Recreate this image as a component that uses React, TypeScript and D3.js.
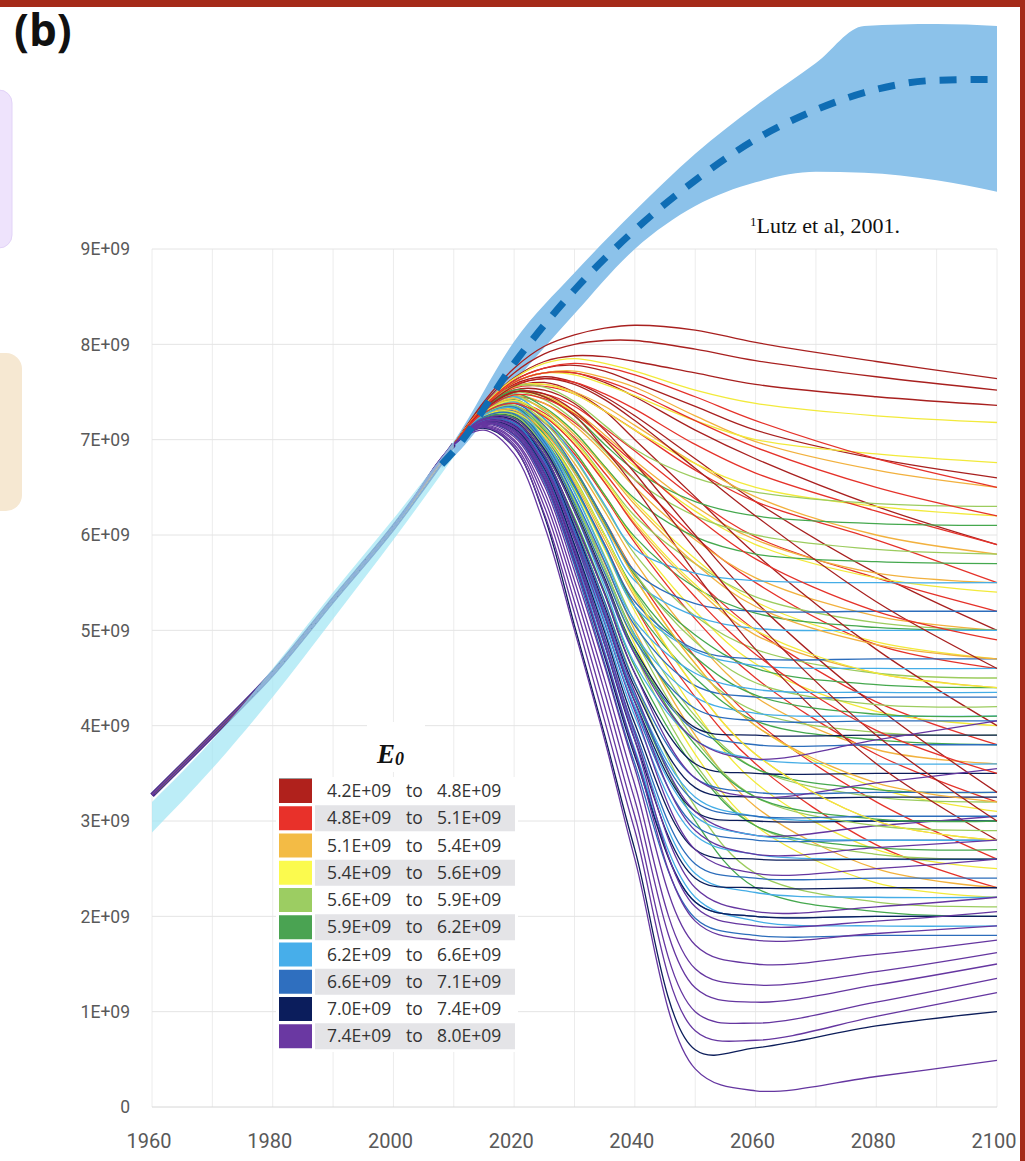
import React, { useEffect, useRef } from "react";
import * as d3 from "d3";

const W = 1025;
const H = 1161;

// shared history of all model runs (billions)
const histYears = [1960, 1970, 1980, 1990, 2000, 2010];
const modelHistory = [3.27, 3.9, 4.55, 5.32, 6.08, 6.95];
const observedUpper = [3.2, 3.85, 4.6, 5.4, 6.17, 6.98];
const observedLower = [2.88, 3.55, 4.3, 5.12, 5.95, 6.82];

// model runs after 2010, one array per E0 class
const runYears = [2015, 2020, 2025, 2030, 2035, 2040, 2050, 2060, 2080, 2100];

const darkRedRuns = [
  [7.40, 7.75, 7.98, 8.10, 8.17, 8.20, 8.15, 8.02, 7.82, 7.64],
  [7.38, 7.70, 7.90, 8.00, 8.04, 8.04, 7.95, 7.83, 7.66, 7.52],
  [7.36, 7.65, 7.82, 7.88, 7.87, 7.82, 7.70, 7.58, 7.45, 7.36],
  [7.36, 7.62, 7.75, 7.78, 7.72, 7.60, 7.35, 7.10, 6.80, 6.60],
  [7.35, 7.60, 7.70, 7.70, 7.60, 7.45, 7.10, 6.80, 6.30, 5.90],
  [7.34, 7.58, 7.66, 7.60, 7.45, 7.25, 6.80, 6.35, 5.60, 5.00],
  [7.33, 7.55, 7.60, 7.50, 7.30, 7.00, 6.40, 5.80, 4.80, 4.00],
  [7.32, 7.52, 7.52, 7.38, 7.10, 6.75, 6.00, 5.30, 4.20, 3.30],
  [7.30, 7.50, 7.45, 7.25, 6.90, 6.50, 5.60, 4.80, 3.60, 2.80],
  [7.33, 7.56, 7.64, 7.58, 7.42, 7.20, 6.70, 6.20, 5.30, 4.60],
  [7.31, 7.50, 7.48, 7.30, 7.00, 6.65, 5.85, 5.10, 3.90, 3.00],
];

const redRuns = [
  [7.24, 7.25, 6.98, 6.50, 5.90, 5.25, 4.30, 3.60, 2.75, 2.30],
  [7.26, 7.30, 7.08, 6.68, 6.15, 5.60, 4.72, 4.05, 3.20, 2.60],
  [7.27, 7.35, 7.18, 6.85, 6.40, 5.92, 5.12, 4.50, 3.70, 3.20],
  [7.29, 7.40, 7.28, 7.02, 6.65, 6.25, 5.55, 5.00, 4.25, 3.80],
  [7.30, 7.45, 7.38, 7.18, 6.90, 6.58, 5.98, 5.50, 4.85, 4.60],
  [7.31, 7.50, 7.48, 7.35, 7.12, 6.88, 6.38, 5.98, 5.55, 5.20],
  [7.32, 7.54, 7.56, 7.48, 7.30, 7.10, 6.68, 6.35, 5.95, 5.50],
  [7.33, 7.57, 7.64, 7.60, 7.48, 7.32, 6.95, 6.65, 6.25, 5.90],
  [7.34, 7.60, 7.70, 7.70, 7.62, 7.50, 7.20, 6.92, 6.50, 6.20],
  [7.35, 7.62, 7.75, 7.80, 7.76, 7.68, 7.45, 7.20, 6.80, 6.50],
  [7.28, 7.38, 7.24, 6.95, 6.55, 6.10, 5.35, 4.75, 3.95, 3.50],
  [7.30, 7.47, 7.43, 7.27, 7.02, 6.75, 6.20, 5.75, 5.20, 4.90],
];

const orangeRuns = [
  [7.23, 7.22, 6.90, 6.35, 5.70, 5.00, 3.90, 3.15, 2.50, 2.30],
  [7.25, 7.28, 7.02, 6.55, 5.95, 5.35, 4.40, 3.70, 3.00, 2.80],
  [7.27, 7.34, 7.14, 6.75, 6.25, 5.72, 4.90, 4.30, 3.75, 3.60],
  [7.29, 7.40, 7.25, 6.95, 6.55, 6.12, 5.45, 4.95, 4.55, 4.40],
  [7.31, 7.46, 7.38, 7.15, 6.85, 6.50, 5.95, 5.55, 5.15, 5.00],
  [7.32, 7.50, 7.46, 7.30, 7.05, 6.78, 6.30, 5.95, 5.60, 5.50],
  [7.33, 7.55, 7.58, 7.50, 7.35, 7.15, 6.75, 6.40, 6.00, 5.80],
  [7.34, 7.60, 7.70, 7.72, 7.65, 7.55, 7.25, 6.98, 6.68, 6.50],
  [7.30, 7.43, 7.32, 7.05, 6.70, 6.32, 5.70, 5.25, 4.85, 4.70],
  [7.26, 7.31, 7.08, 6.65, 6.10, 5.55, 4.65, 4.00, 3.40, 3.20],
];

const yellowRuns = [
  [7.22, 7.20, 6.88, 6.30, 5.60, 4.85, 3.70, 2.95, 2.35, 2.20],
  [7.24, 7.26, 6.98, 6.48, 5.85, 5.20, 4.15, 3.40, 2.70, 2.50],
  [7.26, 7.32, 7.10, 6.68, 6.12, 5.55, 4.65, 4.00, 3.35, 3.10],
  [7.28, 7.38, 7.20, 6.88, 6.42, 5.95, 5.20, 4.65, 4.15, 4.00],
  [7.30, 7.44, 7.32, 7.08, 6.72, 6.35, 5.75, 5.30, 4.88, 4.70],
  [7.32, 7.50, 7.45, 7.28, 7.00, 6.72, 6.25, 5.90, 5.55, 5.40],
  [7.34, 7.56, 7.58, 7.48, 7.30, 7.10, 6.75, 6.50, 6.30, 6.20],
  [7.35, 7.60, 7.70, 7.68, 7.58, 7.46, 7.20, 7.00, 6.85, 6.76],
  [7.36, 7.64, 7.80, 7.85, 7.80, 7.72, 7.52, 7.38, 7.25, 7.18],
  [7.29, 7.41, 7.26, 6.98, 6.58, 6.15, 5.48, 5.00, 4.55, 4.40],
  [7.25, 7.29, 7.04, 6.58, 6.00, 5.38, 4.40, 3.70, 3.00, 2.80],
];

const lightGreenRuns = [
  [7.21, 7.18, 6.80, 6.12, 5.30, 4.45, 3.15, 2.45, 2.15, 2.10],
  [7.23, 7.23, 6.88, 6.28, 5.52, 4.75, 3.60, 2.95, 2.65, 2.60],
  [7.25, 7.28, 6.98, 6.45, 5.78, 5.08, 4.10, 3.55, 3.25, 3.20],
  [7.26, 7.33, 7.06, 6.60, 6.00, 5.40, 4.60, 4.15, 3.93, 3.90],
  [7.28, 7.40, 7.18, 6.80, 6.30, 5.80, 5.15, 4.80, 4.55, 4.50],
  [7.30, 7.46, 7.30, 7.00, 6.60, 6.20, 5.70, 5.35, 5.08, 5.00],
  [7.32, 7.50, 7.42, 7.20, 6.88, 6.58, 6.20, 6.00, 5.85, 5.80],
  [7.34, 7.56, 7.55, 7.40, 7.15, 6.90, 6.60, 6.45, 6.33, 6.30],
  [7.27, 7.36, 7.12, 6.70, 6.15, 5.60, 4.88, 4.45, 4.22, 4.20],
  [7.24, 7.25, 6.93, 6.36, 5.65, 4.92, 3.85, 3.25, 2.95, 2.90],
];

const greenRuns = [
  [7.20, 7.14, 6.72, 6.00, 5.15, 4.30, 3.00, 2.30, 2.05, 2.00],
  [7.22, 7.20, 6.82, 6.18, 5.40, 4.62, 3.55, 2.95, 2.72, 2.70],
  [7.24, 7.26, 6.92, 6.35, 5.65, 4.95, 4.05, 3.55, 3.33, 3.30],
  [7.25, 7.30, 7.00, 6.50, 5.88, 5.25, 4.50, 4.05, 3.85, 3.80],
  [7.27, 7.36, 7.10, 6.68, 6.12, 5.58, 4.95, 4.60, 4.43, 4.40],
  [7.29, 7.42, 7.22, 6.88, 6.42, 5.98, 5.45, 5.18, 5.03, 5.00],
  [7.31, 7.48, 7.34, 7.08, 6.72, 6.38, 5.98, 5.80, 5.72, 5.70],
  [7.32, 7.52, 7.45, 7.25, 6.95, 6.68, 6.35, 6.20, 6.12, 6.10],
  [7.26, 7.33, 7.05, 6.58, 6.00, 5.42, 4.72, 4.32, 4.12, 4.10],
  [7.23, 7.23, 6.87, 6.26, 5.52, 4.78, 3.80, 3.25, 3.02, 3.00],
];

const lightBlueRuns = [
  [7.18, 7.10, 6.62, 5.78, 4.78, 3.75, 2.20, 1.95, 1.90, 1.90],
  [7.19, 7.12, 6.66, 5.85, 4.88, 3.90, 2.45, 2.25, 2.20, 2.20],
  [7.20, 7.16, 6.72, 5.95, 5.02, 4.10, 2.85, 2.65, 2.60, 2.60],
  [7.22, 7.20, 6.80, 6.08, 5.20, 4.32, 3.25, 3.05, 3.00, 3.00],
  [7.24, 7.25, 6.90, 6.25, 5.45, 4.65, 3.85, 3.65, 3.60, 3.60],
  [7.25, 7.30, 6.96, 6.38, 5.65, 4.95, 4.30, 4.13, 4.10, 4.10],
  [7.27, 7.35, 7.05, 6.52, 5.88, 5.25, 4.78, 4.63, 4.60, 4.60],
  [7.28, 7.40, 7.12, 6.65, 6.08, 5.52, 5.15, 5.02, 5.00, 5.00],
  [7.30, 7.45, 7.22, 6.82, 6.32, 5.85, 5.60, 5.52, 5.50, 5.50],
  [7.21, 7.18, 6.76, 6.02, 5.10, 4.20, 3.05, 2.85, 2.80, 2.80],
  [7.26, 7.33, 7.00, 6.45, 5.76, 5.10, 4.55, 4.38, 4.35, 4.35],
];

const blueRuns = [
  [7.17, 7.05, 6.55, 5.68, 4.65, 3.60, 1.98, 1.80, 1.80, 1.80],
  [7.18, 7.08, 6.60, 5.75, 4.75, 3.72, 2.15, 2.00, 2.00, 2.00],
  [7.19, 7.12, 6.68, 5.88, 4.92, 3.95, 2.55, 2.40, 2.40, 2.40],
  [7.20, 7.15, 6.74, 5.98, 5.08, 4.18, 2.95, 2.80, 2.80, 2.80],
  [7.22, 7.20, 6.82, 6.10, 5.30, 4.45, 3.45, 3.30, 3.30, 3.30],
  [7.23, 7.24, 6.90, 6.25, 5.50, 4.75, 3.95, 3.80, 3.80, 3.80],
  [7.25, 7.30, 6.98, 6.40, 5.72, 5.05, 4.42, 4.30, 4.30, 4.30],
  [7.26, 7.34, 7.05, 6.52, 5.90, 5.30, 4.80, 4.70, 4.70, 4.70],
  [7.28, 7.38, 7.15, 6.70, 6.15, 5.62, 5.28, 5.20, 5.20, 5.20],
  [7.21, 7.17, 6.78, 6.04, 5.18, 4.30, 3.20, 3.05, 3.05, 3.05],
  [7.24, 7.27, 6.94, 6.32, 5.60, 4.90, 4.18, 4.05, 4.05, 4.05],
];

const navyRuns = [
  [7.12, 6.92, 6.20, 5.05, 3.90, 2.70, 0.60, 0.62, 0.85, 1.00],
  [7.17, 7.06, 6.58, 5.72, 4.72, 3.68, 2.15, 2.00, 2.00, 2.00],
  [7.18, 7.10, 6.65, 5.82, 4.85, 3.85, 2.40, 2.30, 2.30, 2.30],
  [7.19, 7.12, 6.70, 5.90, 4.98, 4.02, 2.70, 2.60, 2.60, 2.60],
  [7.20, 7.15, 6.76, 6.00, 5.15, 4.25, 3.10, 3.00, 3.00, 3.00],
  [7.22, 7.20, 6.84, 6.15, 5.38, 4.55, 3.60, 3.50, 3.50, 3.50],
  [7.23, 7.24, 6.90, 6.28, 5.55, 4.80, 3.98, 3.90, 3.90, 3.90],
  [7.21, 7.18, 6.80, 6.08, 5.25, 4.40, 3.35, 3.25, 3.25, 3.25],
];

const purpleRuns = [
  [7.10, 6.85, 6.10, 5.00, 3.85, 2.60, 0.40, 0.17, 0.32, 0.49],
  [7.13, 6.95, 6.30, 5.30, 4.20, 3.05, 1.00, 0.88, 1.10, 1.35],
  [7.14, 6.98, 6.38, 5.42, 4.35, 3.22, 1.25, 1.10, 1.28, 1.50],
  [7.15, 7.00, 6.45, 5.52, 4.48, 3.38, 1.45, 1.28, 1.42, 1.62],
  [7.16, 7.03, 6.52, 5.62, 4.62, 3.55, 1.70, 1.50, 1.60, 1.75],
  [7.17, 7.06, 6.58, 5.72, 4.75, 3.72, 1.95, 1.75, 1.82, 1.90],
  [7.18, 7.10, 6.65, 5.85, 4.92, 3.92, 2.30, 2.05, 2.10, 2.20],
  [7.19, 7.13, 6.72, 5.95, 5.08, 4.15, 2.70, 2.45, 2.50, 2.60],
  [7.20, 7.16, 6.78, 6.05, 5.22, 4.35, 3.10, 2.85, 2.95, 3.05],
  [7.21, 7.19, 6.84, 6.15, 5.38, 4.55, 3.45, 3.25, 3.40, 3.55],
  [7.22, 7.22, 6.88, 6.25, 5.52, 4.75, 3.85, 3.65, 3.85, 4.05],
  [7.13, 6.92, 6.22, 5.18, 4.05, 2.90, 0.80, 0.70, 0.95, 1.20],
  [7.17, 7.08, 6.62, 5.80, 4.85, 3.85, 2.10, 1.90, 1.95, 2.05],
  [7.19, 7.14, 6.75, 6.00, 5.15, 4.25, 2.90, 2.65, 2.72, 2.80],
];

// Lutz et al. 2001 projection
const lutzYears = [2008, 2010, 2020, 2030, 2040, 2050, 2060, 2070, 2078, 2090, 2100];
const lutzMedian = [6.74, 6.88, 7.8, 8.57, 9.2, 9.72, 10.15, 10.46, 10.64, 10.77, 10.78];
const lutzUpper = [6.8, 6.98, 8.03, 8.75, 9.4, 10.0, 10.5, 10.95, 11.34, 11.36, 11.34];
const lutzLower = [6.7, 6.82, 7.6, 8.32, 9.0, 9.45, 9.7, 9.81, 9.8, 9.72, 9.6];

const legendFrom = ["4.2E+09", "4.8E+09", "5.1E+09", "5.4E+09", "5.6E+09", "5.9E+09", "6.2E+09", "6.6E+09", "7.0E+09", "7.4E+09"];
const legendTo = ["4.8E+09", "5.1E+09", "5.4E+09", "5.6E+09", "5.9E+09", "6.2E+09", "6.6E+09", "7.1E+09", "7.4E+09", "8.0E+09"];
const legendColors = ["#b0211c", "#e8312a", "#f3bb45", "#fbfa4e", "#9ccd62", "#4aa352", "#47aeea", "#2f6fbf", "#0b1d5c", "#6a38a2"];
const lineColors = ["#a8201f", "#e5322a", "#f2b13e", "#f2ea3a", "#9ccc5e", "#45a84e", "#45ade6", "#2c6dbb", "#0c1d5a", "#6536a0"];
const runGroups = [darkRedRuns, redRuns, orangeRuns, yellowRuns, lightGreenRuns, greenRuns, lightBlueRuns, blueRuns, navyRuns, purpleRuns];

const yTicks = [0, 1, 2, 3, 4, 5, 6, 7, 8, 9];
const xTicks = [1960, 1980, 2000, 2020, 2040, 2060, 2080, 2100];

export default function App() {
  const ref = useRef<SVGSVGElement>(null);

  useEffect(() => {
    const svg = d3.select(ref.current);
    svg.selectAll("*").remove();

    const x = d3.scaleLinear().domain([1960, 2100]).range([152, 997]);
    const y = d3.scaleLinear().domain([0, 9]).range([1107, 249]);

    svg.append("rect").attr("width", W).attr("height", H).attr("fill", "#fff");

    // frame pieces from the surrounding figure
    svg.append("rect").attr("x", 0).attr("y", 0).attr("width", W).attr("height", 7).attr("fill", "#a52b1a");
    svg.append("rect").attr("x", 1020).attr("y", 0).attr("width", 5).attr("height", H).attr("fill", "#a52b1a");
    svg.append("rect").attr("x", -24).attr("y", 90).attr("width", 36).attr("height", 158).attr("rx", 13)
      .attr("fill", "#eee3fc").attr("stroke", "#e2d3f8");
    svg.append("rect").attr("x", -24).attr("y", 353).attr("width", 46).attr("height", 158).attr("rx", 16)
      .attr("fill", "#f6e8d2");

    svg.append("text").attr("x", 14).attr("y", 46).text("(b)")
      .style("font-family", "'Open Sans', sans-serif").style("font-weight", 700)
      .style("font-size", "44px").attr("fill", "#111");

    // grid
    const grid = svg.append("g");
    grid.selectAll(".vg").data(d3.range(1960, 2101, 10)).enter().append("line")
      .attr("x1", (d) => x(d)).attr("x2", (d) => x(d))
      .attr("y1", y(9)).attr("y2", y(0))
      .attr("stroke", "#ececec").attr("stroke-width", 1);
    grid.selectAll(".hg").data(yTicks).enter().append("line")
      .attr("x1", x(1960)).attr("x2", x(2100))
      .attr("y1", (d) => y(d)).attr("y2", (d) => y(d))
      .attr("stroke", (d) => (d === 0 ? "#d6d6d6" : "#e4e4e4")).attr("stroke-width", 1);

    // axis labels
    svg.append("g").selectAll("text").data(yTicks).enter().append("text")
      .attr("x", 130).attr("y", (d) => y(d)).attr("dy", "0.36em")
      .attr("text-anchor", "end")
      .style("font-family", "Roboto, sans-serif").style("font-size", "17.5px")
      .attr("fill", "#595959")
      .text((d) => (d === 0 ? "0" : `${d}E+09`));
    svg.append("g").selectAll("text").data(xTicks).enter().append("text")
      .attr("x", (d) => x(d) - 3).attr("y", 1148)
      .attr("text-anchor", "middle")
      .style("font-family", "Roboto, sans-serif").style("font-size", "20px")
      .attr("fill", "#595959")
      .text((d) => d);

    // Lutz band
    const band = d3.area<number>()
      .x((_, i) => x(lutzYears[i]))
      .y0((_, i) => y(lutzLower[i]))
      .y1((d) => y(d))
      .curve(d3.curveMonotoneX);
    svg.append("path").attr("d", band(lutzUpper)).attr("fill", "#8cc2ea");

    const line = d3.line<[number, number]>()
      .x((d) => x(d[0])).y((d) => y(d[1]))
      .curve(d3.curveMonotoneX);
    const smooth = d3.line<[number, number]>()
      .x((d) => x(d[0])).y((d) => y(d[1]))
      .curve(d3.curveCatmullRom.alpha(0.5));

    // overlapping history of all runs
    svg.append("path")
      .attr("d", line(histYears.map((yr, i) => [yr, modelHistory[i]])))
      .attr("fill", "none").attr("stroke", "#4a2f8e").attr("stroke-width", 5);

    // model runs, interleaved between classes
    const maxRuns = d3.max(runGroups, (g) => g.length) ?? 0;
    const runsG = svg.append("g").attr("fill", "none").attr("stroke-width", 1.3);
    for (let k = 0; k < maxRuns; k++) {
      runGroups.forEach((group, gi) => {
        const run = group[k];
        if (!run) return;
        const pts: [number, number][] = histYears.map((yr, i) => [yr, modelHistory[i]]);
        run.forEach((v, i) => pts.push([runYears[i], v]));
        runsG.append("path").attr("d", smooth(pts)).attr("stroke", lineColors[gi]);
      });
    }

    // observed population band
    const obs = d3.area<number>()
      .x((_, i) => x(histYears[i]))
      .y0((_, i) => y(observedLower[i]))
      .y1((d) => y(d))
      .curve(d3.curveMonotoneX);
    svg.append("path").attr("d", obs(observedUpper)).attr("fill", "#9fe6f3").attr("opacity", 0.7);

    // Lutz median
    svg.append("path")
      .attr("d", line(lutzYears.map((yr, i) => [yr, lutzMedian[i]])))
      .attr("fill", "none").attr("stroke", "#0f6db4").attr("stroke-width", 7)
      .attr("stroke-dasharray", "17 14");

    const note = svg.append("text").attr("x", 750).attr("y", 233)
      .style("font-family", "'Liberation Serif', 'Times New Roman', serif").attr("fill", "#111");
    note.append("tspan").style("font-size", "13px").attr("dy", -7).text("1");
    note.append("tspan").style("font-size", "22px").attr("dy", 7).text("Lutz et al, 2001.");

    // legend
    const lg = svg.append("g");
    lg.append("rect").attr("x", 276).attr("y", 777).attr("width", 242).attr("height", 275).attr("fill", "#fff");
    lg.append("rect").attr("x", 367).attr("y", 722).attr("width", 58).attr("height", 50).attr("fill", "#fff");
    const title = lg.append("text").attr("x", 377).attr("y", 763)
      .style("font-family", "'Liberation Serif', 'Times New Roman', serif")
      .style("font-style", "italic").style("font-weight", 700).attr("fill", "#111");
    title.append("tspan").style("font-size", "27px").text("E");
    title.append("tspan").style("font-size", "18px").attr("dy", 2).text("0");

    const rowY = (i: number) => 791 + i * 27.25;
    lg.append("rect").attr("x", 279).attr("y", 778).attr("width", 33).attr("height", 2).attr("fill", "#9b9b9b");
    legendColors.forEach((c, i) => {
      if (i % 2 === 1) {
        lg.append("rect").attr("x", 315).attr("y", rowY(i) - 13).attr("width", 200).attr("height", 26).attr("fill", "#e4e4e7");
      }
      lg.append("rect").attr("x", 279).attr("y", rowY(i) - 12).attr("width", 33).attr("height", 24).attr("fill", c);
      const t = lg.append("g")
        .style("font-family", "'Open Sans', sans-serif").style("font-size", "17.5px").attr("fill", "#333");
      t.append("text").attr("x", 327).attr("y", rowY(i) + 6).text(legendFrom[i]);
      t.append("text").attr("x", 406).attr("y", rowY(i) + 6).text("to");
      t.append("text").attr("x", 437).attr("y", rowY(i) + 6).text(legendTo[i]);
    });
  }, []);

  return (
    <svg ref={ref} width={W} height={H} style={{ position: "absolute", left: 0, top: 0 }}></svg>
  );
}
